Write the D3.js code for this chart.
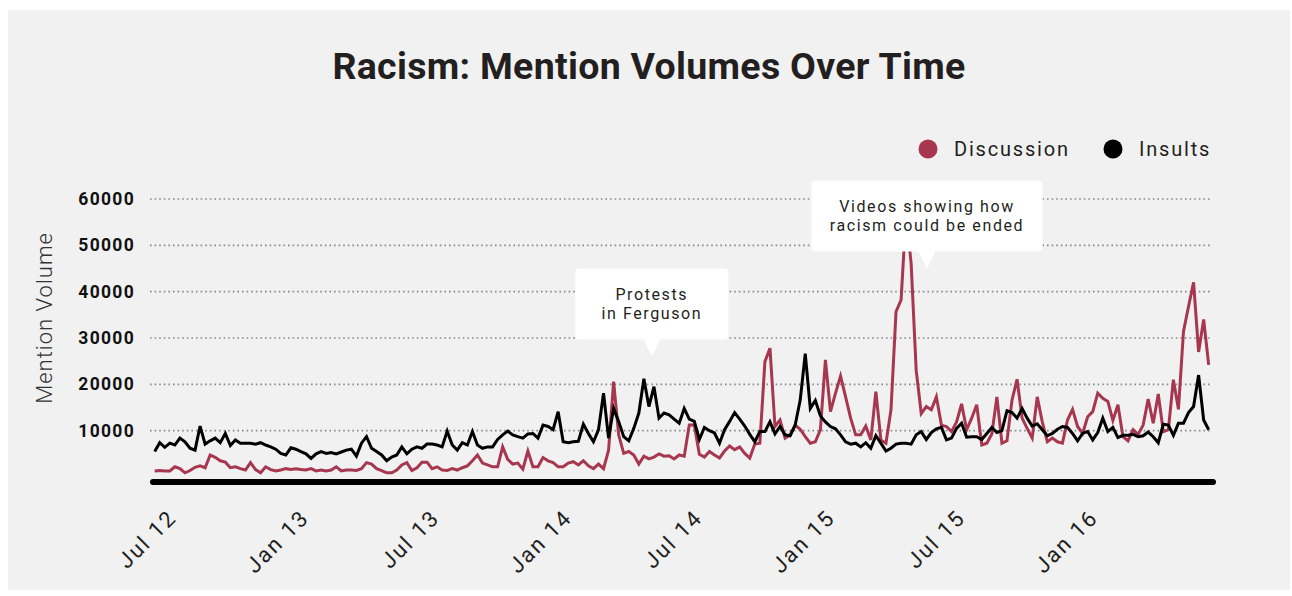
<!DOCTYPE html>
<html>
<head>
<meta charset="utf-8">
<script src="https://cdn.jsdelivr.net/npm/d3@7"></script>
<style>
  html, body { margin: 0; padding: 0; background: #ffffff; }
  svg { display: block; font-family: Roboto, "Noto Sans", sans-serif; }
</style>
</head>
<body>
<svg id="chart" width="1292" height="596"></svg>
<script>
// ---------------- DATA ----------------
const seriesNames = ["Discussion", "Insults"];
const seriesColors = ["#a6374f", "#000000"];
const firstWeek = "2012-06-03"; // weekly observations start here

const discussion = [
  1300, 1400, 1300, 1300, 2200, 1800, 900, 1400, 2100, 2400, 2000, 4750, 4250, 3500, 3200, 2000, 2200, 1800, 1500, 3100, 1600, 900, 2200, 1600, 1300, 1500, 1800, 1600, 1800, 1600, 1500,
  1800, 1300, 1500, 1300, 1500, 2200, 1300, 1500, 1500, 1400, 1800, 3100, 2800, 1800, 1400, 900, 900, 1500, 2600, 3100, 1400, 2000, 3200, 3200, 1800, 2200, 1500, 1400,
  1800, 1500, 2000, 2400, 3500, 4750, 3000, 2600, 2200, 2200, 6500, 3800, 2800, 3000, 1700, 5600, 2200, 2200, 4200, 3500, 3100, 2200, 2200, 3000, 3300, 2600, 3500, 2400, 1800, 2800, 1800,
  5800, 20600, 9100, 5100, 5500, 4750, 2800, 4500, 3900, 4300, 5000, 4500, 4600, 3900, 4750, 4500, 11200, 11200, 4900, 4300, 5500, 4750, 4100, 5600, 6700, 5900, 6500, 5100, 4100, 7100,
  7300, 24900, 27800, 10900, 12300, 8400, 9100, 11200, 10300, 8700, 7300, 7600, 10200, 25300, 14100, 18100, 21800, 17300, 12700, 9100, 9100, 11000, 8000, 18400, 8000, 7300, 14500, 35700, 38200, 57000,
  46000, 23000, 13700, 15200, 14500, 17300, 11200, 10900, 9800, 11900, 15800, 10200, 12700, 15600, 6900, 7300, 9300, 17300, 7300, 7800, 16600, 21100, 12700, 10500, 8400, 17300, 11900, 7600, 8400, 7600,
  7300, 12300, 14600, 10900, 9400, 13000, 14100, 18100, 17000, 16300, 12200, 15600, 8700, 7800, 10200, 9200, 11200, 16800, 11600, 17900, 9800, 10200, 21000, 14600, 31400, 36800, 42000, 27000, 34000, 24200
];

const insults = [
  5500, 7400, 6400, 7300, 6900, 8400, 7600, 6200, 5800, 11000, 7100, 7800, 8400, 7400, 9400, 6800, 8000, 7300, 7300, 7300, 7100, 7400, 6900, 6500, 6000, 5100, 4750, 6300, 6000, 5500, 5000,
  4000, 5000, 5500, 5100, 5300, 5000, 5400, 5800, 6000, 4500, 7300, 8700, 6200, 5500, 4750, 3500, 4300, 4750, 6500, 5000, 6000, 6500, 6200, 7100, 7100, 6900, 6500, 9900,
  6900, 5800, 7400, 6900, 9800, 6900, 6200, 6500, 6500, 8100, 9100, 9900, 9100, 8700, 8400, 9300, 9400, 8400, 11200, 10900, 10200, 14100, 7600, 7400, 7600, 7700, 11400, 9400, 7600, 10200, 18100,
  8400, 14800, 12000, 8700, 7800, 10500, 13800, 21200, 15200, 19500, 12700, 13800, 13400, 12500, 11600, 14800, 12500, 12000, 8100, 10700, 10000, 9500, 7300, 10200, 12000, 13900, 12500, 11000, 9200, 7600,
  9800, 9800, 11900, 9300, 10900, 9100, 8900, 11200, 16600, 26600, 14800, 16500, 13200, 11900, 10900, 10400, 9100, 7600, 7100, 7300, 6500, 7400, 6200, 8900, 7300, 5600, 6200, 7100, 7300, 7300,
  7100, 9100, 9800, 8100, 9600, 10400, 10700, 8000, 8400, 10500, 11600, 8600, 8700, 8700, 8100, 9400, 10700, 9600, 10000, 14300, 13900, 12700, 14800, 12700, 11000, 11500, 10200, 8900, 9400, 10300,
  10900, 10700, 9400, 7800, 9400, 9800, 8000, 9600, 12700, 9800, 10700, 8500, 9000, 9000, 9200, 8700, 8900, 9700, 8700, 7400, 11400, 11200, 9000, 11600, 11600, 13900, 15200, 22000, 12300, 10200
];

const yTicks = [10000, 20000, 30000, 40000, 50000, 60000];
const xTickFormat = "%b %y";

const annoDates = ["2014-04-24", "2015-05-11"];
const annoValues = [26000, 45000];
const annoLines = [["Protests", "in Ferguson"], ["Videos showing how", "racism could be ended"]];

// ---------------- CHART ----------------
const svg = d3.select("#chart");

svg.append("rect").attr("x", 8).attr("y", 10).attr("width", 1282).attr("height", 580).attr("fill", "#f1f1f1");

const parse = d3.timeParse("%Y-%m-%d");
const start = parse(firstWeek);
const dates = discussion.map((_, i) => d3.timeWeek.offset(start, i));

const x = d3.scaleTime().domain([dates[0], dates[dates.length - 1]]).range([154.7, 1208.7]);
const y = d3.scaleLinear().domain([0, 60000]).range([477, 199]);

// title
svg.append("text").attr("x", 649).attr("y", 79).attr("text-anchor", "middle")
  .attr("font-size", 37.5).attr("font-weight", 700).attr("fill", "#231f20").attr("letter-spacing", "0.3px")
  .text("Racism: Mention Volumes Over Time");

// legend
const legend = svg.append("g");
const legX = [928, 1113];
seriesNames.forEach((name, i) => {
  legend.append("circle").attr("cx", legX[i]).attr("cy", 149).attr("r", 9.5).attr("fill", seriesColors[i]);
  legend.append("text").attr("x", legX[i] + 26).attr("y", 156).attr("font-size", 20)
    .attr("letter-spacing", "1.8px").attr("fill", "#231f20").text(name);
});

// gridlines
const grid = svg.append("g");
grid.selectAll("line").data(yTicks).join("line")
  .attr("x1", 150).attr("x2", 1212)
  .attr("y1", d => y(d)).attr("y2", d => y(d))
  .attr("stroke", "#8a8a8a").attr("stroke-width", 1.6).attr("stroke-dasharray", "1.6,3");

// y axis labels
const yAxis = d3.axisLeft(y).tickValues(yTicks).tickSize(0).tickPadding(0).tickFormat(d3.format("d"));
const gy = svg.append("g").attr("transform", "translate(135,0)").call(yAxis);
gy.select(".domain").remove();
gy.selectAll("text").attr("font-family", "Roboto, sans-serif").attr("font-size", 17.5)
  .attr("font-weight", 700).attr("fill", "#111").attr("letter-spacing", "1.3px");

// y title
svg.append("text").attr("transform", "translate(52,318) rotate(-90)").attr("text-anchor", "middle")
  .attr("font-size", 22).attr("font-weight", 300).attr("fill", "#333").attr("letter-spacing", "1px")
  .text("Mention Volume");

// lines
const line = d3.line().x((d, i) => x(dates[i])).y(d => y(d));
[discussion, insults].forEach((series, i) => {
  svg.append("path").datum(series).attr("d", line).attr("fill", "none")
    .attr("stroke", seriesColors[i]).attr("stroke-width", 3).attr("stroke-linejoin", "miter");
});

// x axis baseline
svg.append("line").attr("x1", 153).attr("x2", 1213).attr("y1", 482).attr("y2", 482)
  .attr("stroke", "#000").attr("stroke-width", 6).attr("stroke-linecap", "round");

// x tick labels
const xTicks = x.ticks(d3.timeMonth.every(6));
const fmt = d3.timeFormat(xTickFormat);
svg.append("g").selectAll("text").data(xTicks).join("text")
  .attr("transform", d => `translate(${x(d) + 3},519) rotate(-45)`)
  .attr("text-anchor", "end").attr("font-size", 22).attr("letter-spacing", "2px")
  .attr("fill", "#231f20").text(d => fmt(d));

// annotations
const boxW = [153, 231];
annoDates.forEach((ds, i) => {
  const tx = x(parse(ds)), ty = y(annoValues[i]);
  const lines = annoLines[i];
  const g = svg.append("g");
  const bw = boxW[i], bh = 71;
  const bottom = ty - 17, top = bottom - bh;
  g.append("rect").attr("x", tx - bw / 2).attr("y", top).attr("width", bw).attr("height", bh)
    .attr("rx", 4).attr("fill", "#ffffff");
  g.append("path").attr("d", `M${tx - 9},${bottom - 1}L${tx + 9},${bottom - 1}L${tx},${ty}Z`).attr("fill", "#ffffff");
  lines.forEach((t, j) => {
    g.append("text").attr("x", tx).attr("y", top + 31.5 + j * 19).attr("text-anchor", "middle")
      .attr("font-size", 16).attr("letter-spacing", "1.6px").attr("fill", "#231f20").text(t);
  });
});
</script>
</body>
</html>
